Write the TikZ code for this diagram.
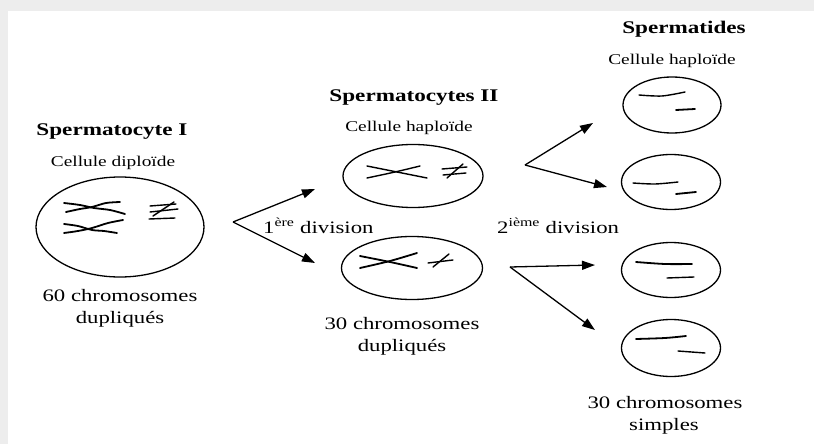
\documentclass[tikz,border=0pt]{standalone}
\usepackage{fontspec}
\setmainfont[FakeStretch=1.3]{Liberation Serif}
\usetikzlibrary{arrows.meta,shapes.geometric,positioning}

\begin{document}
\begin{tikzpicture}[
  x=1pt,y=-1pt,
  cell/.style={draw,ellipse,line width=1.3pt,inner sep=0pt},
  title/.style={font=\fontsize{17.8}{20}\selectfont\bfseries,anchor=base,inner sep=0pt},
  sub/.style={font=\fontsize{14.9}{17}\selectfont,anchor=base,inner sep=0pt},
  count/.style={font=\fontsize{17.5}{22}\selectfont,anchor=base,inner sep=0pt},
  chr/.style={line width=1.8pt,line cap=round},
  arr/.style={-{Triangle[length=13pt,width=9pt]},line width=1.3pt}
]
% page with its grey frame
\useasboundingbox (0,0) rectangle (814,444);
\fill[gray!14] (0,0) rectangle (814,444);
\fill[white] (8,11) rectangle (814,444);

% cells
\node[cell,minimum width=168,minimum height=100] (sc1) at (120,227) {};
\node[cell,minimum width=140,minimum height=63] (sc2a) at (413,176) {};
\node[cell,minimum width=141,minimum height=63] (sc2b) at (412,268) {};
\node[cell,minimum width=98,minimum height=56] (st1) at (672,105) {};
\node[cell,minimum width=99,minimum height=55] (st2) at (671,182) {};
\node[cell,minimum width=99,minimum height=55] (st3) at (671,270) {};
\node[cell,minimum width=99,minimum height=57] (st4) at (671,348) {};

% chromosomes
\draw[chr] plot[smooth] coordinates {(64,203) (80,205) (94,208) (110,210) (125,214)};
\draw[chr] plot[smooth] coordinates {(66,212) (80,209) (92,207) (106,203) (120,202)};
\draw[chr] plot[smooth] coordinates {(64,224) (78,226) (92,230) (104,231) (117,233)};
\draw[chr] plot[smooth] coordinates {(64,233) (78,231) (92,228) (108,223) (123,220)};
\draw[chr,line width=1.4pt] (150,206) -- (176,204);
\draw[chr,line width=1.4pt] (150,212) -- (178,209);
\draw[chr,line width=1.4pt] (149,219) -- (175,218);
\draw[chr,line width=1.4pt] (153,216) -- (174,202);

\draw[chr,line width=1.4pt] plot[smooth] coordinates {(367,166) (397,172) (427,178)};
\draw[chr,line width=1.4pt] plot[smooth] coordinates {(367,178) (395,172) (420,166)};
\draw[chr,line width=1.4pt] (442,169) -- (467,167);
\draw[chr,line width=1.4pt] (443,175) -- (466,173);
\draw[chr,line width=1.4pt] (447,178) -- (463,164);

\draw[chr] plot[smooth] coordinates {(360,256) (390,262) (417,268)};
\draw[chr] plot[smooth] coordinates {(360,268) (390,261) (417,253)};
\draw[chr,line width=1.4pt] (428,263) -- (453,260);
\draw[chr,line width=1.4pt] (433,267) -- (449,254);

\draw[chr,line width=1.4pt] plot[smooth] coordinates {(639,95) (662,96) (685,92)};
\draw[chr] (676,110) -- (695,109);
\draw[chr,line width=1.4pt] plot[smooth] coordinates {(633,183) (655,184) (678,182)};
\draw[chr] (676,194) -- (696,192);
\draw[chr] plot[smooth] coordinates {(636,262) (665,264) (692,264)};
\draw[chr,line width=1.4pt] (667,278) -- (694,277);
\draw[chr] plot[smooth] coordinates {(636,339) (665,338) (686,336)};
\draw[chr,line width=1.4pt] (678,351) -- (705,353);

% divisions
\coordinate (v1) at (233,222);
\coordinate (t1a) at (315,189);
\coordinate (t1b) at (315,263);
\coordinate (v2) at (525,165);
\coordinate (t2a) at (593,123);
\coordinate (t2b) at (607,187);
\coordinate (v3) at (510,267);
\coordinate (t3a) at (595,265);
\coordinate (t3b) at (595,330);
\draw[arr] (v1) -- (t1a);
\draw[arr] (v1) -- (t1b);
\draw[arr] (v2) -- (t2a);
\draw[arr] (v2) -- (t2b);
\draw[arr] (v3) -- (t3a);
\draw[arr] (v3) -- (t3b);

% labels
\node[title] (tsc1) at (112,135) {Spermatocyte I};
\node[sub] (dsc1) at (113,166) {Cellule diploïde};
\node[count] (c1a) at (120,301) {60 chromosomes};
\node[count] (c1b) at (120,323) {dupliqués};
\node[title] (tsc2) at (414,102) {Spermatocytes II};
\node[sub] (dsc2) at (409,131) {Cellule haploïde};
\node[count] (c2a) at (402,329) {30 chromosomes};
\node[count] (c2b) at (402,351) {dupliqués};
\node[title] (tst) at (684,34) {Spermatides};
\node[sub] (dst) at (672,65) {Cellule haploïde};
\node[count] (c3a) at (665,408) {30 chromosomes};
\node[count] (c3b) at (664,430) {simples};
\node[count,anchor=base west] (div1) at (263,233) {1\textsuperscript{ère} division};
\node[count,anchor=base west] (div2) at (497,233) {2\textsuperscript{ième} division};
\end{tikzpicture}
\end{document}
